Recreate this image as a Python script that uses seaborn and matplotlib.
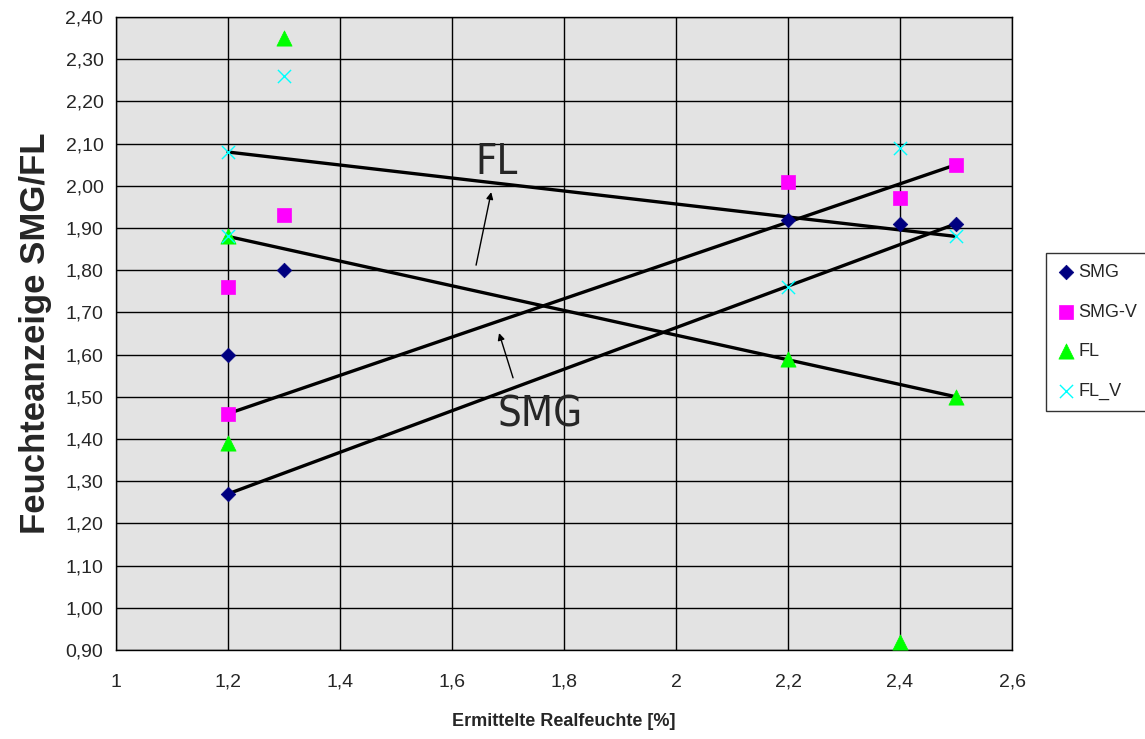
import numpy as np
import pandas as pd
import matplotlib
matplotlib.use("Agg")
import matplotlib.pyplot as plt
import seaborn as sns
from matplotlib.ticker import FuncFormatter, MultipleLocator

# =========================
# DATA
# =========================
x_vals = [1.2, 1.2, 1.3, 2.2, 2.4, 2.5]

smg   = [1.27, 1.60, 1.80, 1.92, 1.91, 1.91]
smg_v = [1.46, 1.76, 1.93, 2.01, 1.97, 2.05]
fl    = [1.39, 1.88, 2.35, 1.59, 0.92, 1.50]
fl_v  = [2.08, 1.88, 2.26, 1.76, 2.09, 1.88]

series_names = ["SMG", "SMG-V", "FL", "FL_V"]

# hand drawn trend lines: (series, index start, index end)
trend_lines = [
    ("FL_V", 0, 5),
    ("FL", 1, 5),
    ("SMG-V", 0, 5),
    ("SMG", 0, 5),
]

# annotation labels
fl_label_pos = (1.68, 2.056)
fl_arrow = ((1.643, 1.812), (1.670, 1.985))
smg_label_pos = (1.757, 1.457)
smg_arrow = ((1.709, 1.545), (1.684, 1.651))

# =========================
# FRAME
# =========================
values = {"SMG": smg, "SMG-V": smg_v, "FL": fl, "FL_V": fl_v}
df = pd.concat(
    [pd.DataFrame({"x": x_vals, "y": values[n], "serie": n}) for n in series_names],
    ignore_index=True,
)

styles = {
    "SMG":   dict(marker="D", color="#000080", s=55, edgecolor="#000080", linewidth=0.5),
    "SMG-V": dict(marker="s", color="#FF00FF", s=110, edgecolor="#FF00FF", linewidth=0.5),
    "FL":    dict(marker="^", color="#00FF00", s=120, edgecolor="#00FF00", linewidth=0.5),
    "FL_V":  dict(marker="x", color="#00FFFF", s=90, linewidth=1.0),
}

# =========================
# PLOT
# =========================
sns.set_style("white")
plt.rcParams["font.family"] = ["Liberation Sans", "DejaVu Sans"]

fig = plt.figure(figsize=(11.45, 7.39), dpi=100)
ax = fig.add_axes([116 / 1145, 1 - 650 / 739, 896 / 1145, 633 / 739])
ax.set_facecolor("#E3E3E3")

for name, i0, i1 in trend_lines:
    ys = values[name]
    ax.plot([x_vals[i0], x_vals[i1]], [ys[i0], ys[i1]], color="black", lw=2.4, zorder=3)

for name in series_names:
    sub = df[df["serie"] == name]
    sns.scatterplot(data=sub, x="x", y="y", ax=ax, label=name, zorder=4, **styles[name])

ax.set_xlim(1.0, 2.6)
ax.set_ylim(0.90, 2.40)
ax.xaxis.set_major_locator(MultipleLocator(0.2))
ax.yaxis.set_major_locator(MultipleLocator(0.1))
ax.xaxis.set_major_formatter(FuncFormatter(lambda v, p: f"{v:g}".replace(".", ",")))
ax.yaxis.set_major_formatter(FuncFormatter(lambda v, p: f"{v:.2f}".replace(".", ",")))
ax.grid(True, color="black", lw=1.0)
ax.set_axisbelow(True)
for sp in ax.spines.values():
    sp.set_color("black")
    sp.set_linewidth(1.0)
ax.tick_params(axis="both", direction="out", length=5, width=1, color="black",
               labelsize=14, pad=4)
ax.tick_params(axis="x", pad=12)

ax.set_xlabel("Ermittelte Realfeuchte [%]", fontsize=13, fontweight="bold", labelpad=16)
ax.set_ylabel("Feuchteanzeige SMG/FL", fontsize=25, fontweight="bold", labelpad=10)

# annotations
narrow = ["Liberation Sans Narrow", "DejaVu Sans"]
ax.text(*fl_label_pos, "FL", fontsize=30, family=narrow, stretch="condensed",
        ha="center", va="center", zorder=5)
ax.text(*smg_label_pos, "SMG", fontsize=30, family=narrow, stretch="condensed",
        ha="center", va="center", zorder=5)
for tail, head in (fl_arrow, smg_arrow):
    ax.annotate("", xy=head, xytext=tail,
                arrowprops=dict(arrowstyle="-|>", color="black", lw=1.0,
                                mutation_scale=10, shrinkA=0, shrinkB=0), zorder=5)

leg = ax.legend(loc="upper left", bbox_to_anchor=(1.038, 0.627), frameon=True,
                fancybox=False, edgecolor="black", fontsize=13, labelspacing=1.25,
                handletextpad=0.2, borderpad=0.6, borderaxespad=0.0,
                markerscale=1.0, handlelength=1.0)
leg.get_frame().set_linewidth(1.0)

fig.savefig("out.png", dpi=100)
